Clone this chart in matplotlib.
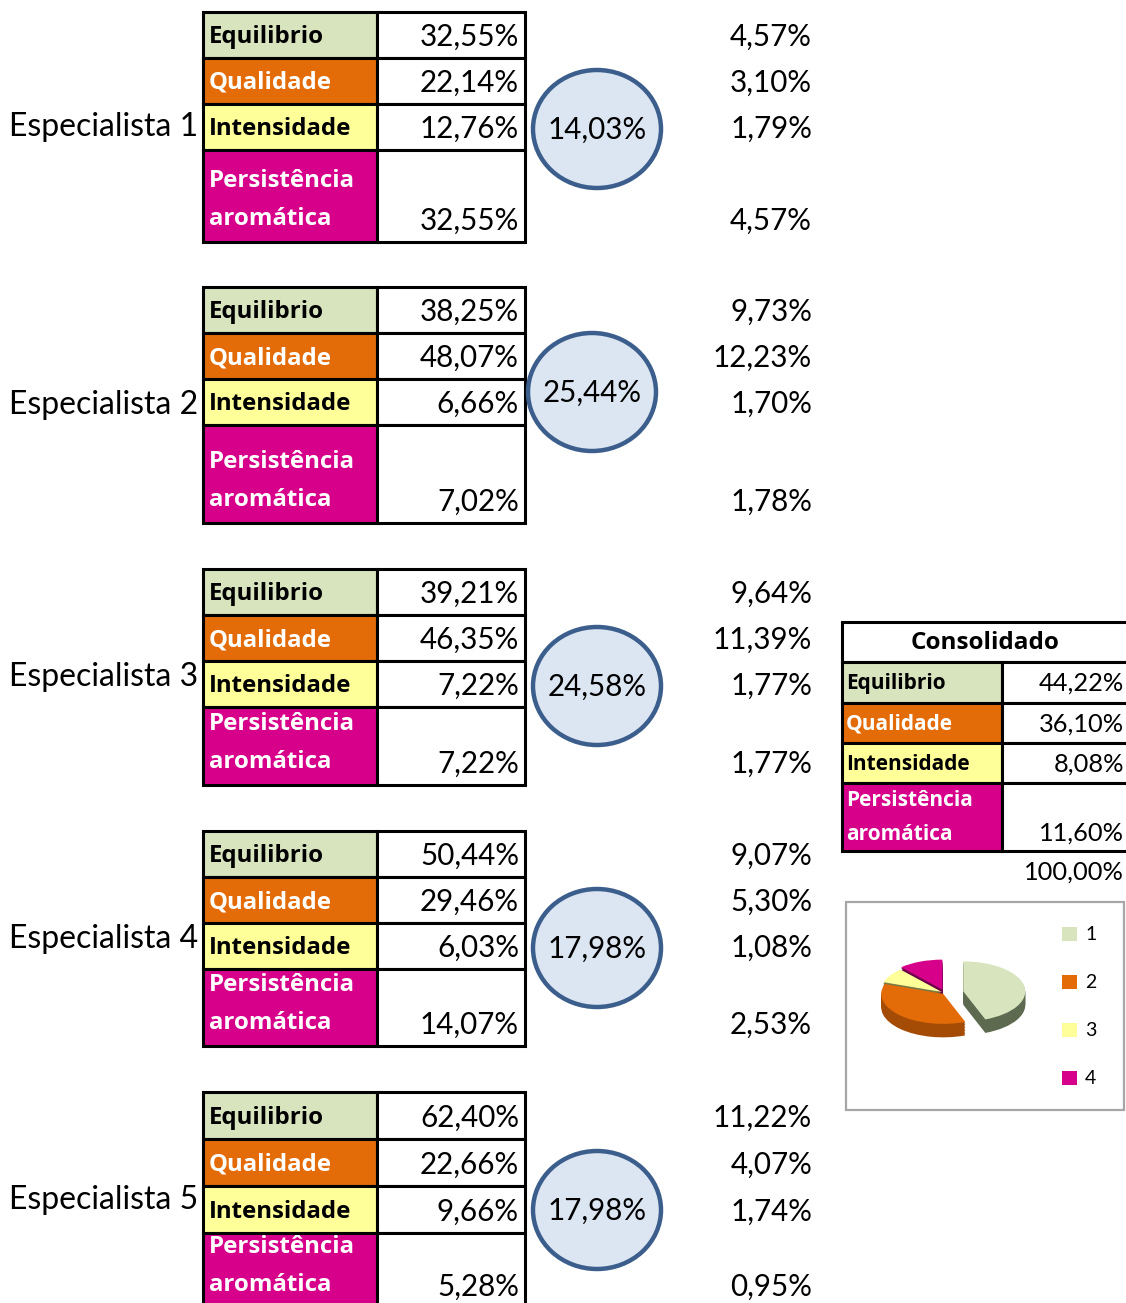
import matplotlib.pyplot as plt
from matplotlib.patches import Rectangle, Ellipse

plt.rcParams['font.family'] = ['Lato', 'DejaVu Sans']
ROTULO = ['Open Sans', 'DejaVu Sans']

# pesos atribuídos por cada especialista
especialistas = ["Especialista 1", "Especialista 2", "Especialista 3",
                 "Especialista 4", "Especialista 5"]
criterios = ["Equilibrio", "Qualidade", "Intensidade", "Persistência\naromática"]
pesos = [
    [32.55, 22.14, 12.76, 32.55],
    [38.25, 48.07, 6.66, 7.02],
    [39.21, 46.35, 7.22, 7.22],
    [50.44, 29.46, 6.03, 14.07],
    [62.40, 22.66, 9.66, 5.28],
]
peso_especialista = [14.03, 25.44, 24.58, 17.98, 17.98]
ponderado = [
    [4.57, 3.10, 1.79, 4.57],
    [9.73, 12.23, 1.70, 1.78],
    [9.64, 11.39, 1.77, 1.77],
    [9.07, 5.30, 1.08, 2.53],
    [11.22, 4.07, 1.74, 0.95],
]
consolidado = [44.22, 36.10, 8.08, 11.60]
total = 100.00
legenda = ["1", "2", "3", "4"]

cores = ["#D7E4BD", "#E36C09", "#FFFF99", "#D6008B"]
cores_lado = ["#5E6A50", "#A44C06", "#7A7A45", "#6A0046"]
cor_texto = ["black", "white", "black", "white"]


def pct(v):
    return f"{v:.2f}".replace(".", ",") + "%"


W, H = 1126, 1303
fig = plt.figure(figsize=(W / 100, H / 100), dpi=100)
ax = fig.add_axes([0, 0, 1, 1])
ax.set_xlim(0, W)
ax.set_ylim(H, 0)
ax.axis("off")

# layout of the five blocks (pixels)
topos = [12, 287, 569, 831, 1092]
alt_linhas = [46, 46, 46, 46, 47]
alt_persist = [92, 98, 78, 77, 75]
circ_xy = [(597, 129), (592, 392), (597, 686), (597, 948), (597, 1210)]
x0, x1, x2 = 203, 377, 525
lw = 2.2
fs_rot = 17.3

for b in range(5):
    top = topos[b]
    alturas = [alt_linhas[b]] * 3 + [alt_persist[b] if b < 4 else 140]
    y = top
    for i in range(4):
        h = alturas[i]
        ax.add_patch(Rectangle((x0, y), x1 - x0, h, facecolor=cores[i],
                               edgecolor="black", linewidth=lw))
        ax.add_patch(Rectangle((x1, y), x2 - x1, h, facecolor="white",
                               edgecolor="black", linewidth=lw))
        if i < 3:
            yc = y + h / 2 + 2
            ax.text(209, yc, criterios[i], fontsize=fs_rot, fontweight="bold",
                    family=ROTULO, color=cor_texto[i], ha="left", va="center")
        else:
            bot = y + alt_persist[b]
            yc = bot - 21
            l1, l2 = criterios[i].split("\n")
            ax.text(209, yc - 40, l1, fontsize=fs_rot, fontweight="bold",
                    family=ROTULO, color=cor_texto[i], ha="left", va="center")
            ax.text(209, yc - 2, l2, fontsize=fs_rot, fontweight="bold",
                    family=ROTULO, color=cor_texto[i], ha="left", va="center")
        ax.text(519, yc, pct(pesos[b][i]), fontsize=21.3,
                ha="right", va="center")
        ax.text(812, yc, pct(ponderado[b][i]), fontsize=21.3,
                ha="right", va="center")
        y += h
    bot_tab = top + 3 * alt_linhas[b] + alt_persist[b]
    ax.text(198, (top + bot_tab) / 2, especialistas[b], fontsize=23,
            ha="right", va="center")
    cx, cy = circ_xy[b]
    ax.add_patch(Ellipse((cx, cy), 128, 118, facecolor="#DCE6F2",
                         edgecolor="#3B5E8C", linewidth=3.2))
    ax.text(cx, cy + 1, pct(peso_especialista[b]), fontsize=21.3,
            ha="center", va="center")

# tabela consolidada
cx0, cx1, cx2 = 842, 1002, 1140
ax.add_patch(Rectangle((cx0, 622), cx2 - cx0, 40, facecolor="white",
                       edgecolor="black", linewidth=lw))
ax.text(985, 643, "Consolidado", fontsize=17.5, fontweight="bold",
        family=ROTULO, ha="center", va="center")
alturas_c = [41, 40, 40, 68]
y = 662
for i in range(4):
    h = alturas_c[i]
    ax.add_patch(Rectangle((cx0, y), cx1 - cx0, h, facecolor=cores[i],
                           edgecolor="black", linewidth=lw))
    ax.add_patch(Rectangle((cx1, y), cx2 - cx1, h, facecolor="white",
                           edgecolor="black", linewidth=lw))
    if i < 3:
        yc = y + h / 2 + 1
        ax.text(846, yc, criterios[i], fontsize=15, fontweight="bold",
                family=ROTULO, color=cor_texto[i], ha="left", va="center")
    else:
        yc = y + h - 18
        l1, l2 = criterios[i].split("\n")
        ax.text(846, yc - 32, l1, fontsize=15, fontweight="bold",
                family=ROTULO, color=cor_texto[i], ha="left", va="center")
        ax.text(846, yc + 1, l2, fontsize=15, fontweight="bold",
                family=ROTULO, color=cor_texto[i], ha="left", va="center")
    ax.text(1124, yc, pct(consolidado[i]), fontsize=18.3, ha="right", va="center")
    y += h
ax.text(1124, 872, pct(total), fontsize=18.3, ha="right", va="center")

# caixa do gráfico de pizza
ax.add_patch(Rectangle((846, 902), 278, 208, facecolor="white",
                       edgecolor="#A6A6A6", linewidth=1.6))
for i, lab in enumerate(legenda):
    ly = 934 + 48 * i
    ax.add_patch(Rectangle((1062, ly - 7), 15, 14, facecolor=cores[i],
                           edgecolor="none"))
    ax.text(1085, ly + 1, lab, fontsize=14, ha="left", va="center")

# pizza 3D simulada: camadas escuras deslocadas para baixo e topo por cima
px, py, rx, ry = 945, 993, 62, 30
lx, rx_lim, by, ty = -1.4, 1.4, -1.8, 1.3
pax = fig.add_axes([(px + lx * rx) / W, 1 - (py - by * ry) / H,
                    (rx_lim - lx) * rx / W, (ty - by) * ry / H])
explode = [0.3, 0.04, 0.06, 0.12]
for k in range(9, 0, -1):
    dy = -0.05 * k
    pax.pie(consolidado, colors=cores_lado, startangle=90, counterclock=False,
            explode=explode, center=(0, dy), frame=False,
            wedgeprops=dict(linewidth=0))
pax.pie(consolidado, colors=cores, startangle=90, counterclock=False,
        explode=explode, center=(0, 0), frame=False,
        wedgeprops=dict(linewidth=0))
pax.set_aspect("auto")
pax.set_xlim(lx, rx_lim)
pax.set_ylim(by, ty)
pax.axis("off")

fig.savefig("out.png", dpi=100)
